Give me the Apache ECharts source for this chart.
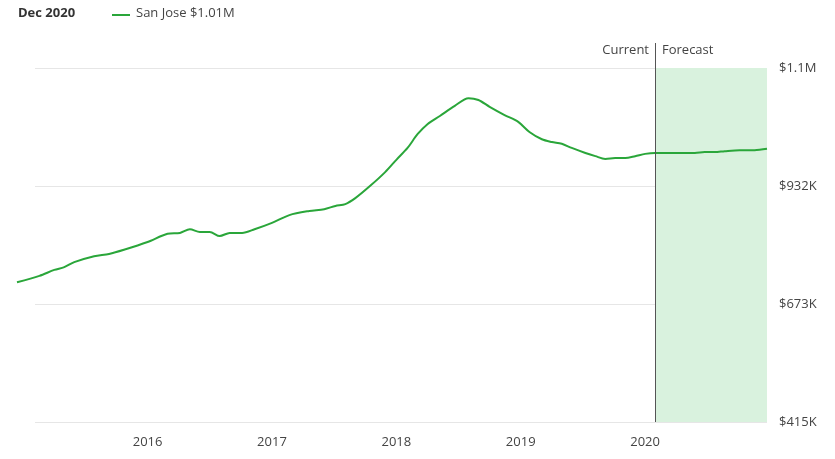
<!DOCTYPE html>
<html>
<head>
<meta charset="utf-8">
<script src="https://cdn.jsdelivr.net/npm/echarts@6/dist/echarts.min.js"></script>
<style>html,body{margin:0;padding:0;background:#fff}#c{width:835px;height:459px}</style>
</head>
<body>
<div id="c"></div>
<script>
var years = [2014.95, 2015.13, 2015.25, 2015.33, 2015.41, 2015.57, 2015.69, 2015.81, 2016.00, 2016.16,
  2016.26, 2016.34, 2016.42, 2016.50, 2016.58, 2016.66, 2016.76, 2016.86, 2017.00, 2017.14,
  2017.30, 2017.42, 2017.51, 2017.59, 2017.67, 2017.79, 2017.91, 2018.00, 2018.09, 2018.17,
  2018.25, 2018.35, 2018.47, 2018.58, 2018.66, 2018.75, 2018.87, 2018.98, 2019.07, 2019.17,
  2019.25, 2019.33, 2019.41, 2019.52, 2019.60, 2019.68, 2019.76, 2019.84, 2019.92, 2020.00,
  2020.08, 2020.28, 2020.40, 2020.48, 2020.56, 2020.64, 2020.76, 2020.88, 2020.98];
var prices = [721, 735, 748, 754, 765, 778, 783, 792, 809, 827,
  829, 837, 831, 831, 822, 829, 829, 837, 851, 868,
  877, 881, 888, 892, 905, 932, 962, 989, 1015, 1045,
  1067, 1085, 1107, 1124, 1120, 1105, 1087, 1072, 1050, 1034,
  1028, 1024, 1015, 1004, 997, 991, 993, 993, 997, 1002,
  1004, 1004, 1004, 1006, 1006, 1008, 1010, 1010, 1013];
var yearTicks = [2016, 2017, 2018, 2019, 2020];
var forecastStart = 2020.08;
var forecastEnd = 2020.98;
var yTickLabels = { 415: '$415K', 673: '$673K', 932: '$932K', 1190: '$1.1M' };

var chart = echarts.init(document.getElementById('c'));
var data = years.map(function (y, i) { return [y, prices[i]]; });
var green = '#2aa63a';

chart.setOption({
  animation: false,
  textStyle: { fontFamily: 'Open Sans' },
  grid: [
    { left: 17, right: 68, top: 68, bottom: 37 },
    { left: 35, right: 68, top: 68, bottom: 37 }
  ],
  xAxis: [{
    type: 'value', min: 2014.95, max: 2020.98, gridIndex: 0,
    splitLine: { show: false }, axisLine: { show: false }, axisTick: { show: false },
    axisLabel: {
      color: '#444', fontSize: 13, margin: 14,
      customValues: yearTicks,
      formatter: function (v) { return String(Math.round(v)); }
    }
  }, {
    type: 'value', gridIndex: 1, show: false, min: 0, max: 1
  }],
  yAxis: [{
    type: 'value', min: 415, max: 1190, gridIndex: 0, show: false
  }, {
    type: 'value', min: 415, max: 1190, interval: (1190 - 415) / 3, gridIndex: 1,
    position: 'right',
    axisLine: { show: false }, axisTick: { show: false },
    splitLine: { lineStyle: { color: '#e6e6e6' } },
    axisLabel: {
      color: '#444', fontSize: 13, margin: 12,
      formatter: function (v) { return yTickLabels[Math.round(v)] || ''; }
    }
  }],
  series: [{
    type: 'line', xAxisIndex: 0, yAxisIndex: 0, data: data,
    showSymbol: false, smooth: 0.3,
    lineStyle: { color: green, width: 2 }, itemStyle: { color: green },
    markArea: {
      silent: true,
      itemStyle: { color: '#d9f2de' },
      data: [[{ xAxis: forecastStart, yAxis: 1190 }, { xAxis: forecastEnd, yAxis: 415 }]]
    },
    markLine: {
      silent: true, symbol: 'none', label: { show: false },
      lineStyle: { color: '#555', width: 1, type: 'solid' },
      data: [{ xAxis: forecastStart }]
    }
  }],
  graphic: [
    { type: 'text', left: 18, top: 7, style: { text: 'Dec 2020', font: 'bold 13px "Open Sans"', fill: '#333' } },
    { type: 'line', shape: { x1: 112, y1: 15, x2: 130, y2: 15 }, style: { stroke: green, lineWidth: 2 } },
    { type: 'text', left: 136, top: 7, style: { text: 'San Jose $1.01M', font: '13px "Open Sans"', fill: '#444' } },
    { type: 'line', shape: { x1: 655.5, y1: 43, x2: 655.5, y2: 68 }, style: { stroke: '#555', lineWidth: 1 } },
    { type: 'text', right: 835 - 649, top: 44, style: { text: 'Current', font: '13px "Open Sans"', fill: '#444' } },
    { type: 'text', left: 662, top: 44, style: { text: 'Forecast', font: '13px "Open Sans"', fill: '#444' } }
  ]
});
</script>
</body>
</html>
